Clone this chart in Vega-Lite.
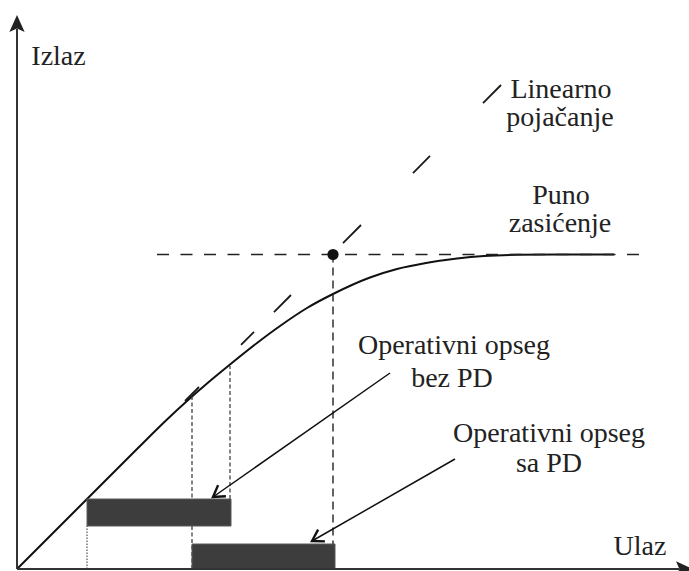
{
  "$schema": "https://vega.github.io/schema/vega-lite/v6.json",
  "width": 672,
  "height": 554,
  "autosize": {"type": "none"},
  "padding": {"left": 17, "top": 15, "right": 0, "bottom": 2},
  "background": "white",
  "config": {"view": {"stroke": null}},
  "datasets": {
    "curve": [
      {"X": 0, "Y": 0}, {"X": 60, "Y": 60}, {"X": 120, "Y": 120}, {"X": 150, "Y": 149.5},
      {"X": 170, "Y": 168}, {"X": 190, "Y": 185.5}, {"X": 213, "Y": 204.5}, {"X": 240, "Y": 226},
      {"X": 263, "Y": 243}, {"X": 290, "Y": 261}, {"X": 316, "Y": 275}, {"X": 353, "Y": 291.5},
      {"X": 380, "Y": 300}, {"X": 409, "Y": 306}, {"X": 440, "Y": 310.5}, {"X": 467, "Y": 313},
      {"X": 500, "Y": 314.2}, {"X": 540, "Y": 314.5}, {"X": 597, "Y": 314.5}
    ],
    "linear": [{"X": 0, "Y": 0}, {"X": 484, "Y": 484}],
    "sat": [{"X": 140, "Y": 314.5, "X2": 631, "Y2": 314.5}],
    "vdash": [{"X": 316, "Y": 314.5, "X2": 316, "Y2": 0}],
    "vdot": [{"X": 175, "Y": 0, "X2": 175, "Y2": 173}, {"X": 213, "Y": 70, "X2": 213, "Y2": 203}],
    "vdot2": [{"X": 70, "Y": 0, "X2": 70, "Y2": 43}],
    "bars": [{"X": 70, "Y": 43, "X2": 214, "Y2": 70}, {"X": 175, "Y": 0, "X2": 318, "Y2": 25}],
    "dot": [{"X": 316, "Y": 314.5}],
    "arrowLines": [{"X": 373, "Y": 196, "X2": 196, "Y2": 72}, {"X": 438, "Y": 110, "X2": 295, "Y2": 28}],
    "head1": [{"X": 196, "Y": 72}],
    "head2": [{"X": 295, "Y": 28}],
    "axes": [{"X": 0, "Y": 0, "X2": 0, "Y2": 540}, {"X": 0, "Y": 0, "X2": 662, "Y2": 0}],
    "tipUp": [{"X": 0, "Y": 554}],
    "tipRight": [{"X": 676, "Y": 0}],
    "labels": [
      {"X": 41.5, "Y": 504, "label": "Izlaz"},
      {"X": 544, "Y": 471, "label": "Linearno"},
      {"X": 543, "Y": 443, "label": "pojačanje"},
      {"X": 544, "Y": 365, "label": "Puno"},
      {"X": 543, "Y": 337, "label": "zasićenje"},
      {"X": 437, "Y": 215, "label": "Operativni opseg"},
      {"X": 435, "Y": 182, "label": "bez PD"},
      {"X": 532, "Y": 127, "label": "Operativni opseg"},
      {"X": 532, "Y": 97, "label": "sa PD"},
      {"X": 623, "Y": 14, "label": "Ulaz"}
    ]
  },
  "encoding": {
    "x": {"field": "X", "type": "quantitative", "scale": {"domain": [0, 672], "nice": false, "zero": false}, "axis": null},
    "y": {"field": "Y", "type": "quantitative", "scale": {"domain": [0, 554], "nice": false, "zero": false}, "axis": null}
  },
  "layer": [
    {"data": {"name": "linear"}, "mark": {"type": "line", "color": "#1a1a1a", "strokeWidth": 1.8, "strokeDash": [0, 237.6, 19.8, 59.4, 18.4, 28.2, 24.1, 73.5, 25.5, 73.5, 24.1, 74.9, 25.5, 200]}, "encoding": {}},
    {"data": {"name": "curve"}, "mark": {"type": "line", "color": "#111", "strokeWidth": 2, "interpolate": "monotone"}, "encoding": {}},
    {"data": {"name": "sat"}, "mark": {"type": "rule", "color": "#222", "strokeWidth": 1.5, "strokeDash": [12, 11.5]}, "encoding": {"x2": {"field": "X2"}, "y2": {"field": "Y2"}}},
    {"data": {"name": "vdash"}, "mark": {"type": "rule", "color": "#222", "strokeWidth": 1.4, "strokeDash": [8, 5]}, "encoding": {"x2": {"field": "X2"}, "y2": {"field": "Y2"}}},
    {"data": {"name": "vdot"}, "mark": {"type": "rule", "color": "#333", "strokeWidth": 1.2, "strokeDash": [4, 2.5]}, "encoding": {"x2": {"field": "X2"}, "y2": {"field": "Y2"}}},
    {"data": {"name": "vdot2"}, "mark": {"type": "rule", "color": "#444", "strokeWidth": 1.1, "strokeDash": [1.5, 1.5]}, "encoding": {"x2": {"field": "X2"}, "y2": {"field": "Y2"}}},
    {"data": {"name": "bars"}, "mark": {"type": "rect", "color": "#3d3d3d", "stroke": "#5a5a5a", "strokeWidth": 1}, "encoding": {"x2": {"field": "X2"}, "y2": {"field": "Y2"}}},
    {"data": {"name": "dot"}, "mark": {"type": "point", "shape": "circle", "filled": true, "color": "#111", "size": 125, "opacity": 1}, "encoding": {}},
    {"data": {"name": "arrowLines"}, "mark": {"type": "rule", "color": "#111", "strokeWidth": 1.5}, "encoding": {"x2": {"field": "X2"}, "y2": {"field": "Y2"}}},
    {"data": {"name": "head1"}, "mark": {"type": "point", "shape": "M-1,-0.62L0,0L-1,0.62", "filled": false, "color": "#111", "strokeWidth": 2.4, "size": 484, "angle": 145, "opacity": 1}, "encoding": {}},
    {"data": {"name": "head2"}, "mark": {"type": "point", "shape": "M-1,-0.62L0,0L-1,0.62", "filled": false, "color": "#111", "strokeWidth": 2.4, "size": 484, "angle": 150, "opacity": 1}, "encoding": {}},
    {"data": {"name": "axes"}, "mark": {"type": "rule", "color": "#333", "strokeWidth": 2}, "encoding": {"x2": {"field": "X2"}, "y2": {"field": "Y2"}}},
    {"data": {"name": "tipUp"}, "mark": {"type": "point", "shape": "M0,0L0.45,1L0,0.8L-0.45,1Z", "filled": true, "color": "#222", "size": 1156, "opacity": 1, "strokeWidth": 0}, "encoding": {}},
    {"data": {"name": "tipRight"}, "mark": {"type": "point", "shape": "M0,0L0.45,1L0,0.8L-0.45,1Z", "filled": true, "color": "#222", "size": 1156, "angle": 90, "opacity": 1, "strokeWidth": 0}, "encoding": {}},
    {"data": {"name": "labels"}, "mark": {"type": "text", "font": "Times New Roman, Liberation Serif, serif", "fontSize": 28, "color": "#222", "align": "center", "baseline": "alphabetic"}, "encoding": {"text": {"field": "label"}}}
  ]
}
